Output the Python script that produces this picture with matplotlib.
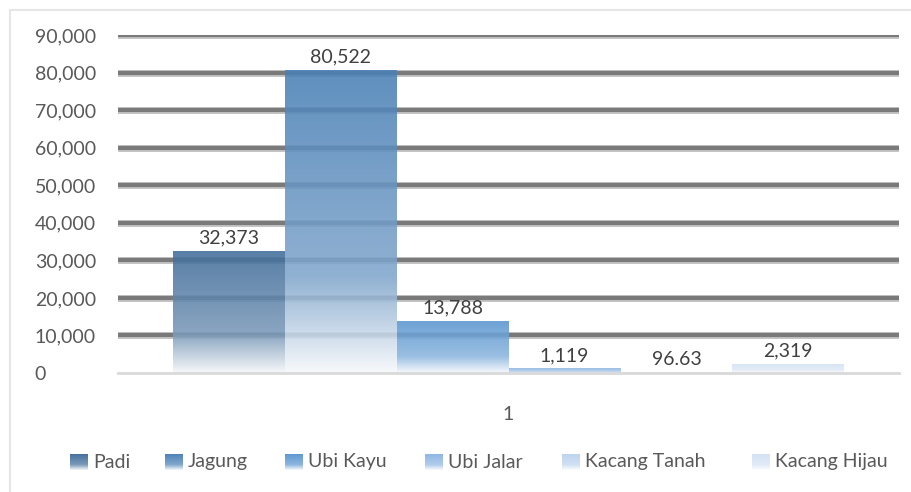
import numpy as np
import matplotlib
matplotlib.use("Agg")
import matplotlib.pyplot as plt
from matplotlib.colors import to_rgb
from matplotlib.lines import Line2D

series = ["Padi", "Jagung", "Ubi Kayu", "Ubi Jalar", "Kacang Tanah", "Kacang Hijau"]
values = [32373, 80522, 13788, 1119, 96.63, 2319]
labels = ["32,373", "80,522", "13,788", "1,119", "96.63", "2,319"]
category = ["1"]
top_colors = ["#416d9a", "#4a80b6", "#5a96d0", "#8db5e2", "#bcd3ee", "#d3e2f4"]
yticks = [0, 10000, 20000, 30000, 40000, 50000, 60000, 70000, 80000, 90000]

plt.rcParams['font.family'] = ['Lato', 'DejaVu Sans']
FS = 14
TXT = '#595959'

W, H = 912, 492
fig = plt.figure(figsize=(W / 100, H / 100), dpi=100)
ax = fig.add_axes([118/W, 1-373/H, 781/W, (373-35)/H])

n = len(series)
group_w = 0.86
bw = group_w / n
x0 = -group_w / 2

def grad_img(col, w=1):
    c = np.array(to_rgb(col))
    t = np.linspace(0, 1, 256)
    f = np.where(t < 0.68, 0.30 * t / 0.68, 0.30 + 0.65 * (t - 0.68) / 0.32)
    f = np.clip(f, 0, 0.95)
    rgb = c[None, :] * (1 - f[:, None]) + f[:, None]
    return np.repeat(rgb[:, None, :], w, axis=1)

for t in yticks[1:]:
    ax.axhline(t, color='#7a7a7a', lw=3, zorder=0.5)
    ax.axhline(t, color='#c4c4c4', lw=5, zorder=0.4)

for i, (name, v, col, lab) in enumerate(zip(series, values, top_colors, labels)):
    left = x0 + i * bw
    ax.imshow(grad_img(col), extent=(left, left + bw, 0, v), origin='upper',
              aspect='auto', zorder=1, interpolation='bilinear', alpha=0.88)
    ax.text(left + bw / 2, v + 1300, lab, ha='center', va='bottom',
            fontsize=FS, color='#404040', zorder=4)

ax.set_xlim(-0.5, 0.5)
ax.set_ylim(0, 90000)
ax.set_yticks(yticks)
ax.set_yticklabels([f"{t:,}" for t in yticks])
ax.axhline(0, color='#d9d9d9', lw=2, zorder=3, clip_on=False)
ax.set_xticks([0])
ax.set_xticklabels(category)
for s in ax.spines.values():
    s.set_visible(False)
ax.tick_params(axis='both', length=0, colors=TXT, labelsize=FS)
ax.tick_params(axis='x', pad=24)
for lbl in ax.get_yticklabels():
    lbl.set_horizontalalignment('left')
ax.tick_params(axis='y', pad=60)

# legend (manual, Excel-like layout)
leg_x = [70, 165, 285, 425, 562, 752]
leg_y = 462
for xpix, name, col in zip(leg_x, series, top_colors):
    lax = fig.add_axes([xpix / W, 1 - (leg_y + 8) / H, 18 / W, 16 / H])
    lax.imshow(grad_img(col, 2), aspect='auto', interpolation='bilinear')
    lax.axis('off')
    fig.text((xpix + 23) / W, 1 - leg_y / H, name, ha='left', va='center',
             fontsize=FS, color=TXT)

# outer border
fig.add_artist(Line2D([10/W, 10/W], [0, 1-10/H], color='#e6e6e6', lw=1.5))
fig.add_artist(Line2D([10/W, 1], [1-10/H, 1-10/H], color='#e6e6e6', lw=1.5))

fig.savefig("out.png", dpi=100)
